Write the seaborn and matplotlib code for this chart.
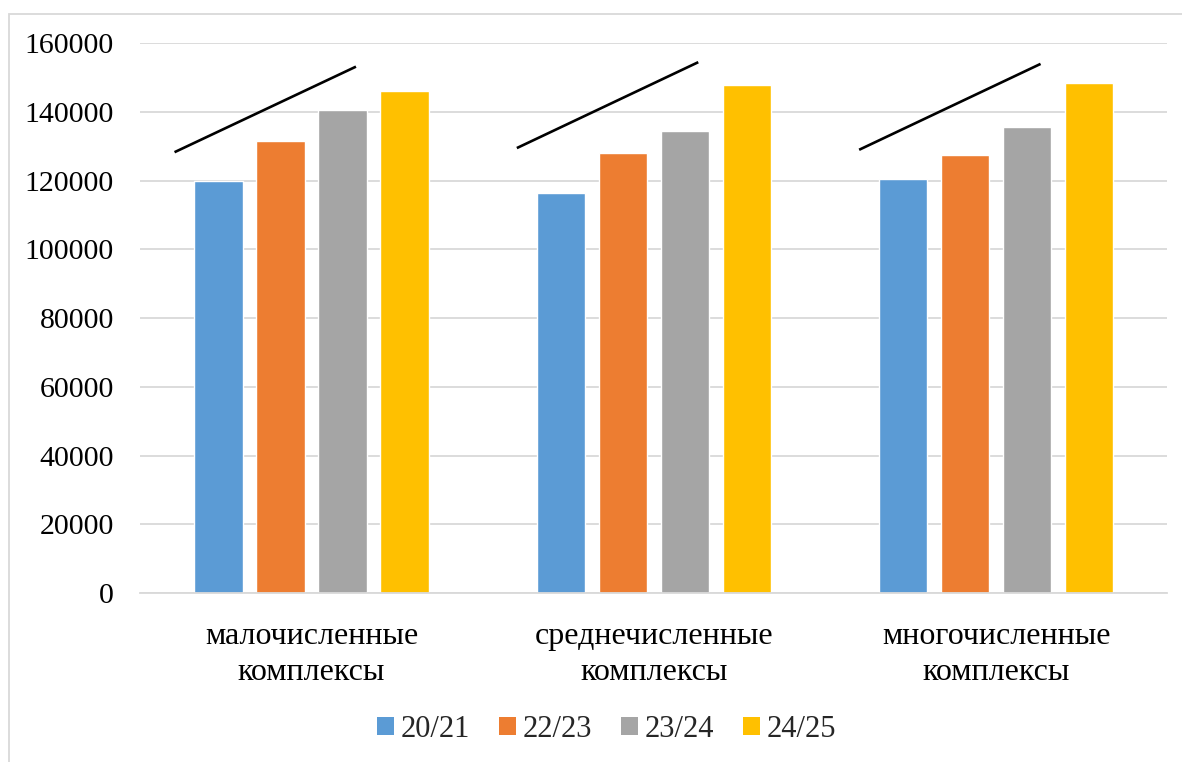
import matplotlib
matplotlib.use("Agg")
import matplotlib.pyplot as plt
from matplotlib.patches import Patch, Rectangle
import pandas as pd
import seaborn as sns

# Values per housing complex group, one list per season
categories = ["малочисленные\nкомплексы", "среднечисленные\nкомплексы", "многочисленные\nкомплексы"]
seasons = ["20/21", "22/23", "23/24", "24/25"]
series_2021 = [120000, 116500, 120400]
series_2223 = [131700, 128000, 127400]
series_2324 = [140600, 134500, 135500]
series_2425 = [146200, 147900, 148500]

# Upward trend strokes above each group (start and end levels)
trend_start = [128300, 129500, 129000]
trend_end = [153200, 154500, 154000]

yticks = [0, 20000, 40000, 60000, 80000, 100000, 120000, 140000, 160000]
colors = ["#5B9BD5", "#ED7D31", "#A5A5A5", "#FFC000"]

rows = []
for season, vals in zip(seasons, [series_2021, series_2223, series_2324, series_2425]):
    for cat, v in zip(categories, vals):
        rows.append({"category": cat, "season": season, "value": v})
df = pd.DataFrame(rows)

sns.set_theme(style="white")
plt.rcParams["font.family"] = ["Liberation Serif", "DejaVu Serif"]

fig = plt.figure(figsize=(11.82, 7.62), dpi=100)
ax = fig.add_axes([0.1187, 0.2218, 0.8688, 0.7214])

sns.barplot(data=df, x="category", y="value", hue="season", order=categories,
            hue_order=seasons, palette=colors, width=0.724, gap=0.22,
            saturation=1, legend=False, ax=ax, zorder=2)

# trend strokes
for i, (s, e) in enumerate(zip(trend_start, trend_end)):
    ax.plot([i - 0.40, i + 0.13], [s, e], color="black", lw=1.9,
            solid_capstyle="butt", zorder=3)

ax.set_ylim(0, 160000)
ax.set_xlim(-0.5, 2.5)
ax.set_yticks(yticks)
ax.set_yticklabels([str(t) for t in yticks])
ax.yaxis.grid(True, color="#D9D9D9", lw=1.3)
ax.set_axisbelow(True)
for side in ["left", "right", "top"]:
    ax.spines[side].set_visible(False)
ax.spines["bottom"].set_color("#D9D9D9")
ax.spines["bottom"].set_linewidth(1.3)
ax.tick_params(axis="y", length=0, pad=19, labelsize=21.5, colors="black")
ax.tick_params(axis="x", length=0, pad=21, labelsize=23, colors="black")
for lbl in ax.get_xticklabels():
    lbl.set_linespacing(1.3)
ax.set_xlabel("")
ax.set_ylabel("")

handles = [Patch(facecolor=c, edgecolor="none", label=s) for c, s in zip(colors, seasons)]
fig.legend(handles=handles, loc="center", bbox_to_anchor=(0.513, 0.043), ncol=4,
           frameon=False, fontsize=22, handlelength=0.55, handleheight=0.55,
           handletextpad=0.22, columnspacing=0.95, borderaxespad=0)

# chart frame
fig.patches.append(Rectangle((9 / 1182, -0.1), 1.2, 1.1 - 14 / 762,
                             transform=fig.transFigure, fill=False,
                             edgecolor="#D9D9D9", lw=1.3))

fig.savefig("out.png", dpi=100)
